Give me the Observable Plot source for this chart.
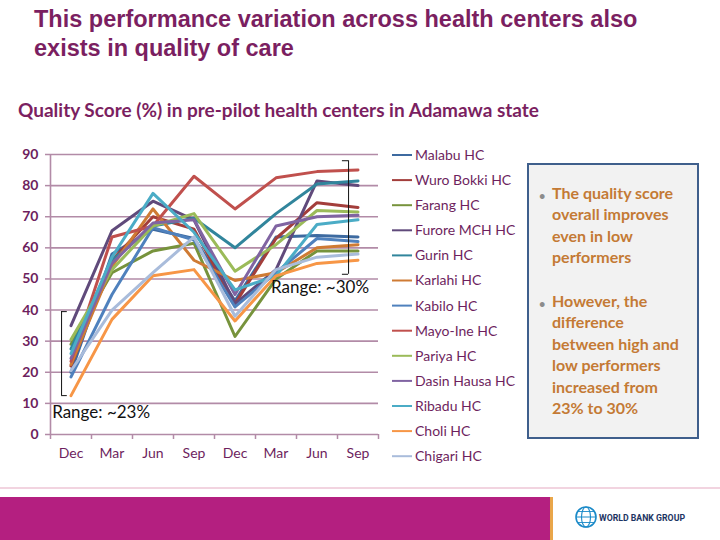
<!DOCTYPE html>
<html>
<head>
<meta charset="utf-8">
<script src="https://cdn.jsdelivr.net/npm/d3@7"></script>
<script src="https://cdn.jsdelivr.net/npm/@observablehq/plot@0.6"></script>
<style>
  body { margin: 0; background: #fff; }
  #page { position: relative; width: 720px; height: 540px; overflow: hidden; font-family: Lato, "Noto Sans", sans-serif; background: #fff; }
  #title { position: absolute; left: 34px; top: 5px; font-family: "Liberation Sans", Arial, sans-serif; font-weight: bold; font-size: 23.5px; line-height: 29px; color: #7B1F61; }
  #subtitle { position: absolute; left: 18px; top: 98px; font-size: 19px; font-weight: bold; line-height: 24px; color: #7B1F61; }
  #chart { position: absolute; left: 0; top: 140px; }
  #legend { position: absolute; left: 380px; top: 140px; }
  #note { position: absolute; left: 527px; top: 163px; width: 172px; height: 276px; box-sizing: border-box; border: 2px solid #3F5F8C; background: #F2F2F2; color: #C47A35; font-weight: bold; font-size: 16px; line-height: 21.4px; }
  .bullet { position: absolute; left: 10px; color: #8C8C8C; font-size: 11px; }
  .btext { position: absolute; left: 23px; white-space: nowrap; }
  #rule { position: absolute; left: 0; top: 487px; width: 720px; height: 2px; background: #F2D4E0; }
  #bar { position: absolute; left: 0; top: 497px; width: 550px; height: 43px; background: #B41F80; border-right: 3px solid #E9A64A; }
  #logo { position: absolute; left: 572px; top: 503px; }
</style>
</head>
<body>
<div id="page">
  <div id="title">This performance variation across health centers also<br>exists in quality of care</div>
  <div id="subtitle">Quality Score (%) in pre-pilot health centers in Adamawa state</div>
  <div id="chart"></div>
  <div id="legend"></div>
  <div id="note">
    <span class="bullet" style="top:20px">•</span>
    <span class="btext" style="top:17px">The quality score<br>overall improves<br>even in low<br>performers</span>
    <span class="bullet" style="top:128px">•</span>
    <span class="btext" style="top:125px">However, the<br>difference<br>between high and<br>low performers<br>increased from<br>23% to 30%</span>
  </div>
  <div id="rule"></div>
  <div id="bar"></div>
  <svg id="logo" width="130" height="32">
    <circle cx="14" cy="14" r="10" fill="none" stroke="#1B8AC8" stroke-width="1.6"></circle>
    <ellipse cx="14" cy="14" rx="4.5" ry="10" fill="none" stroke="#1B8AC8" stroke-width="1.1"></ellipse>
    <line x1="4" y1="14" x2="24" y2="14" stroke="#1B8AC8" stroke-width="1"></line>
    <line x1="6" y1="8.5" x2="22" y2="8.5" stroke="#1B8AC8" stroke-width="0.9"></line>
    <line x1="6" y1="19.5" x2="22" y2="19.5" stroke="#1B8AC8" stroke-width="0.9"></line>
    <text x="27" y="18" font-family="Roboto, 'Liberation Sans', sans-serif" font-weight="bold" font-size="9.5" fill="#1D3463" textLength="86" lengthAdjust="spacingAndGlyphs">WORLD BANK GROUP</text>
  </svg>
</div>
<script>
// ---- Data ----
const months = ["Dec", "Mar", "Jun", "Sep", "Dec", "Mar", "Jun", "Sep"];
const centers = ["Malabu HC", "Wuro Bokki HC", "Farang HC", "Furore MCH HC", "Gurin HC", "Karlahi HC",
  "Kabilo HC", "Mayo-Ine HC", "Pariya HC", "Dasin Hausa HC", "Ribadu HC", "Choli HC", "Chigari HC"];
const centerColors = ["#3D6AA0", "#A33E3B", "#77933C", "#604A7B", "#31859C", "#CF7B34",
  "#4F81BD", "#C0504D", "#9BBB59", "#8064A2", "#4BACC6", "#F79646", "#A9BCDB"];

const malabu     = [20,   58,   66,   63,   43,   63.5, 64,   63.5];
const wuroBokki  = [22,   56,   70,   66,   42,   63,   74.5, 73];
const farang     = [29,   52,   59,   61.5, 31.5, 50,   59,   59];
const furoreMch  = [35,   65.5, 75,   69,   42,   53,   81.5, 80];
const gurin      = [27.5, 56,   67,   69.5, 60,   71,   80.5, 81.5];
const karlahi    = [22.5, 54,   72.5, 56,   49.5, 52,   60,   61];
const kabilo     = [18.5, 45,   66.5, 62.5, 41,   52,   63,   62];
const mayoIne    = [23.5, 63.5, 67,   83,   72.5, 82.5, 84.5, 85];
const pariya     = [30.5, 53,   67,   71,   52.5, 61,   72,   71.5];
const dasinHausa = [24.5, 55,   68,   69,   45,   67,   70,   70.5];
const ribadu     = [26,   57,   77.5, 65,   46.5, 51,   67.5, 69];
const choli      = [12.5, 37,   51,   53,   36.5, 51,   55,   56];
const chigari    = [20.5, 40,   52,   63.5, 38,   53,   57,   58];

const yTicks = [0, 10, 20, 30, 40, 50, 60, 70, 80, 90];

// annotation brackets (x in period index units, y in score units)
const brackets = [
  {x: -0.23, tip: -0.09, y1: 12.5, y2: 39.5},
  {x: 6.77, tip: 6.62, y1: 51.5, y2: 88}
];
const rangeLabels = [
  {x: -0.46, y: 7.2, text: "Range: ~23%"},
  {x: 4.88, y: 47.2, text: "Range: ~30%"}
];

// ---- Build ----
const seriesValues = [malabu, wuroBokki, farang, furoreMch, gurin, karlahi, kabilo, mayoIne, pariya, dasinHausa, ribadu, choli, chigari];
const data = centers.flatMap((name, s) => seriesValues[s].map((v, i) => ({name, i, v})));
const sepTicks = d3.range(-0.5, months.length, 1);
const monthIdx = months.map((m, i) => i);

const grid = "#B28BA7";
const purple = "#6E1F5E";

const chart = Plot.plot({
  width: 380, height: 330,
  marginLeft: 50, marginRight: 2, marginTop: 14, marginBottom: 36,
  x: {domain: [-0.5, 7.5]},
  y: {domain: [0, 90]},
  color: {domain: centers, range: centerColors},
  style: {fontFamily: "Lato, 'Noto Sans', sans-serif", fontSize: "14px", color: purple, background: "transparent", overflow: "visible"},
  marks: [
    Plot.gridY(yTicks, {stroke: grid, strokeOpacity: 1, strokeWidth: 1.6}),
    Plot.axisY(yTicks, {tickSize: 5, tickPadding: 7, stroke: grid, strokeWidth: 1.5, label: null, fill: purple, fontSize: 14, fontWeight: "bold"}),
    Plot.axisX(sepTicks, {tickSize: 5, tickFormat: () => "", stroke: grid, strokeWidth: 1.5, label: null}),
    Plot.axisX(monthIdx, {tickSize: 0, tickPadding: 14, tickFormat: i => months[i], label: null, fill: purple, fontSize: 14}),
    Plot.ruleX([-0.5], {stroke: grid, strokeWidth: 1.6}),
    Plot.line(data, {x: "i", y: "v", z: "name", stroke: "name", strokeWidth: 3, strokeLinejoin: "round"}),
    Plot.ruleX(brackets, {x: "x", y1: "y1", y2: "y2", stroke: "#111", strokeWidth: 1}),
    Plot.ruleY(brackets, {y: "y1", x1: "x", x2: "tip", stroke: "#111", strokeWidth: 1}),
    Plot.ruleY(brackets, {y: "y2", x1: "x", x2: "tip", stroke: "#111", strokeWidth: 1}),
    Plot.text(rangeLabels, {x: "x", y: "y", text: "text", textAnchor: "start", fill: "#111", fontSize: 17})
  ]
});
document.getElementById("chart").appendChild(chart);

// ---- Legend ----
const lg = d3.select("#legend").append("svg").attr("width", 140).attr("height", 330)
  .style("font-family", "Lato, 'Noto Sans', sans-serif");
const row = lg.selectAll("g").data(centers).join("g")
  .attr("transform", (d, i) => `translate(0,${15 + i * 25.1})`);
row.append("line").attr("x1", 12).attr("x2", 32).attr("y1", 0).attr("y2", 0)
  .attr("stroke", (d, i) => centerColors[i]).attr("stroke-width", 2);
row.append("text").attr("x", 35).attr("y", 0).attr("dy", "0.35em")
  .attr("font-size", 14).attr("fill", purple).text(d => d);
</script>
</body>
</html>
